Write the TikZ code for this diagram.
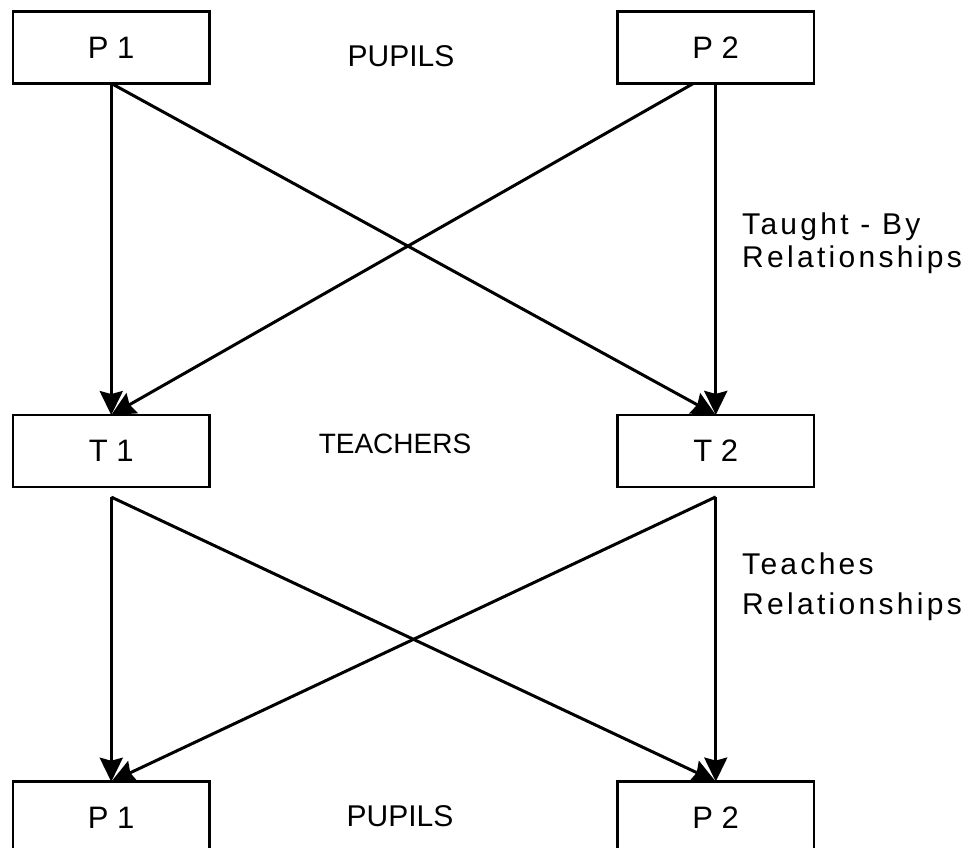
\documentclass[tikz,border=0pt]{standalone}
\usepackage{fontspec}
\setmainfont{Liberation Sans}
\newfontfamily\spacedfont[LetterSpace=11]{Liberation Sans}
\usetikzlibrary{matrix,arrows.meta}
\tikzset{
	pbox/.style={draw, line width=2.5pt, minimum width=196pt, minimum height=72pt, inner sep=0pt, font=\fontsize{31}{31}\selectfont},
	rel/.style={-{Stealth[length=24pt,width=23pt,inset=3pt]}, line width=3pt},
	grouplbl/.style={anchor=base, inner sep=0pt, font=\fontsize{30}{30}\selectfont},
	sidelbl/.style={anchor=north west, align=left, inner sep=0pt, font=\spacedfont\fontsize{30}{33}\selectfont}
}
\begin{document}
\begin{tikzpicture}[x=1pt, y=-1pt]
		\useasboundingbox (0,0) rectangle (980,848);
		\matrix (b) [matrix of nodes, nodes={pbox}, column sep=406pt, row sep=0pt, anchor=north west, inner sep=0pt, outer sep=0pt] at (12,10)
		{
			P 1 & P 2 \\[329pt]
			T 1 & T 2 \\[292pt]
			P 1 & P 2 \\
		};
		\path[rel]
		(b-1-1.south) edge (b-2-1.north) edge (b-2-2.north)
		([xshift=-22pt]b-1-2.south) edge (b-2-1.north)
		(b-1-2.south) edge (b-2-2.north)
		([yshift=-10pt]b-2-1.south) edge (b-3-1.north) edge (b-3-2.north)
		([yshift=-10pt]b-2-2.south) edge (b-3-2.north) edge (b-3-1.north);
		\node[grouplbl] (pupilsA) at (401,67) {PUPILS};
		\node[grouplbl, font=\fontsize{28}{28}\selectfont] (teachers) at (395,453) {TEACHERS};
		\node[grouplbl] (pupilsB) at (400,826) {PUPILS};
		\node[sidelbl] (taughtby) at (742,213) {Taught - By\\Relationships};
		\node[sidelbl] (teaches) at (742,553) {Teaches\\[7pt]Relationships};
	\end{tikzpicture}
\end{document}
